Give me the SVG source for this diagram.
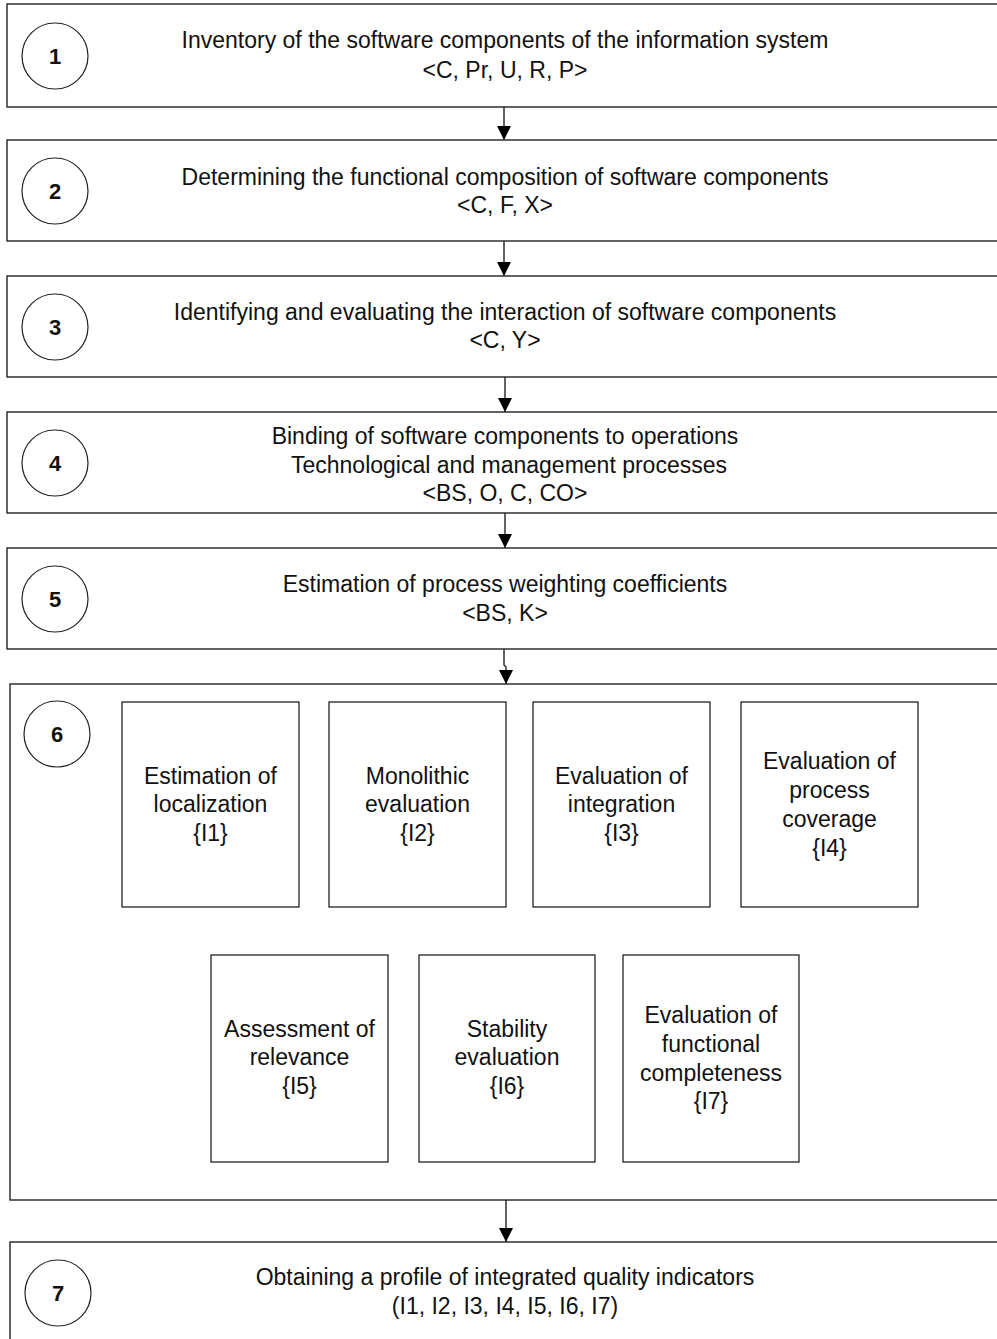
<svg xmlns="http://www.w3.org/2000/svg" width="997" height="1339" viewBox="0 0 997 1339">
<defs>
<marker id="ah" viewBox="0 0 14 14" markerWidth="14" markerHeight="14" refX="14" refY="7" orient="auto" markerUnits="userSpaceOnUse">
<path d="M0,0 L14,7 L0,14 Z" fill="#000"/>
</marker>
</defs>
<style>
.box{fill:#fff;stroke:#222;stroke-width:1.4}
.in{fill:#fff;stroke:#111;stroke-width:1.2}
.cir{fill:#fff;stroke:#222;stroke-width:1.2}
.t{font-family:"Liberation Sans",Arial,sans-serif;font-size:23px;fill:#111;text-anchor:middle}
.n{font-family:"Liberation Sans",Arial,sans-serif;font-size:22px;font-weight:bold;fill:#111;text-anchor:middle}
.c{fill:none;stroke:#222;stroke-width:1.4}
</style>
<rect width="997" height="1339" fill="#fff"/>
<g id="connectors">
<path class="c" d="M504,107 V140" marker-end="url(#ah)"/>
<path class="c" d="M504,241 V276" marker-end="url(#ah)"/>
<path class="c" d="M505,377 V412" marker-end="url(#ah)"/>
<path class="c" d="M505,513 V548" marker-end="url(#ah)"/>
<path class="c" d="M504,649 V665 L506,667 V684" marker-end="url(#ah)"/>
<path class="c" d="M506,1200 V1242" marker-end="url(#ah)"/>
</g>
<g id="node1">
<rect class="box" x="7" y="4" width="1000" height="103"/>
<circle class="cir" cx="55" cy="56" r="33"/>
<text class="n" x="55" y="64">1</text>
<text class="t" x="505" y="48">Inventory of the software components of the information system</text>
<text class="t" x="505" y="78">&lt;C, Pr, U, R, P&gt;</text>
</g>
<g id="node2">
<rect class="box" x="7" y="140" width="1000" height="101"/>
<circle class="cir" cx="55" cy="191" r="33"/>
<text class="n" x="55" y="199">2</text>
<text class="t" x="505" y="185">Determining the functional composition of software components</text>
<text class="t" x="505" y="213">&lt;C, F, X&gt;</text>
</g>
<g id="node3">
<rect class="box" x="7" y="276" width="1000" height="101"/>
<circle class="cir" cx="55" cy="327" r="33"/>
<text class="n" x="55" y="335">3</text>
<text class="t" x="505" y="320">Identifying and evaluating the interaction of software components</text>
<text class="t" x="505" y="348">&lt;C, Y&gt;</text>
</g>
<g id="node4">
<rect class="box" x="7" y="412" width="1000" height="101"/>
<circle class="cir" cx="55" cy="463" r="33"/>
<text class="n" x="55" y="471">4</text>
<text class="t" x="505" y="444">Binding of software components to operations</text>
<text class="t" x="509" y="473">Technological and management processes</text>
<text class="t" x="505" y="501">&lt;BS, O, C, CO&gt;</text>
</g>
<g id="node5">
<rect class="box" x="7" y="548" width="1000" height="101"/>
<circle class="cir" cx="55" cy="599" r="33"/>
<text class="n" x="55" y="607">5</text>
<text class="t" x="505" y="592">Estimation of process weighting coefficients</text>
<text class="t" x="505" y="621">&lt;BS, K&gt;</text>
</g>
<g id="node6">
<rect class="box" x="10" y="684" width="1000" height="516"/>
<circle class="cir" cx="57" cy="734" r="33"/>
<text class="n" x="57" y="742">6</text>
</g>
<g id="node6a">
<rect class="in" x="122" y="702" width="177" height="205"/>
<text class="t" x="210.5" y="784">Estimation of</text>
<text class="t" x="210.5" y="812">localization</text>
<text class="t" x="210.5" y="841">{I1}</text>
</g>
<g id="node6b">
<rect class="in" x="329" y="702" width="177" height="205"/>
<text class="t" x="417.5" y="784">Monolithic</text>
<text class="t" x="417.5" y="812">evaluation</text>
<text class="t" x="417.5" y="841">{I2}</text>
</g>
<g id="node6c">
<rect class="in" x="533" y="702" width="177" height="205"/>
<text class="t" x="621.5" y="784">Evaluation of</text>
<text class="t" x="621.5" y="812">integration</text>
<text class="t" x="621.5" y="841">{I3}</text>
</g>
<g id="node6d">
<rect class="in" x="741" y="702" width="177" height="205"/>
<text class="t" x="829.5" y="769">Evaluation of</text>
<text class="t" x="829.5" y="798">process</text>
<text class="t" x="829.5" y="827">coverage</text>
<text class="t" x="829.5" y="856">{I4}</text>
</g>
<g id="node6e">
<rect class="in" x="211" y="955" width="177" height="207"/>
<text class="t" x="299.5" y="1037">Assessment of</text>
<text class="t" x="299.5" y="1065">relevance</text>
<text class="t" x="299.5" y="1094">{I5}</text>
</g>
<g id="node6f">
<rect class="in" x="419" y="955" width="176" height="207"/>
<text class="t" x="507" y="1037">Stability</text>
<text class="t" x="507" y="1065">evaluation</text>
<text class="t" x="507" y="1094">{I6}</text>
</g>
<g id="node6g">
<rect class="in" x="623" y="955" width="176" height="207"/>
<text class="t" x="711" y="1023">Evaluation of</text>
<text class="t" x="711" y="1052">functional</text>
<text class="t" x="711" y="1081">completeness</text>
<text class="t" x="711" y="1109">{I7}</text>
</g>
<g id="node7">
<rect class="box" x="10" y="1242" width="1000" height="120"/>
<circle class="cir" cx="58" cy="1293" r="33"/>
<text class="n" x="58" y="1301">7</text>
<text class="t" x="505" y="1285">Obtaining a profile of integrated quality indicators</text>
<text class="t" x="505" y="1314">(I1, I2, I3, I4, I5, I6, I7)</text>
</g>
</svg>
